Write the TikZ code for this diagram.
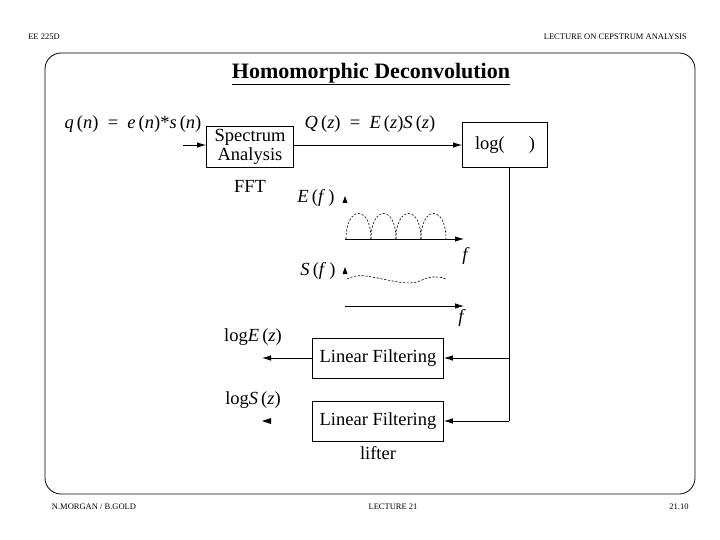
\documentclass[tikz,border=0pt]{standalone}
\usepackage{fontspec}
\setmainfont{Liberation Serif}
\usepackage{tikz}
\usetikzlibrary{positioning, arrows.meta, calc}
\newcommand{\itv}[1]{\textit{#1}}
\tikzset{
  blockbox/.style={
    draw, line width=0.8pt,
    minimum width=#1, minimum height=40pt,
    align=center, inner sep=2pt,
    font=\fontsize{18.5}{21}\selectfont
  },
  lbl/.style={inner sep=0pt, font=\fontsize{18.5}{21}\selectfont},
  hdr/.style={inner sep=0pt, font=\fontsize{8.5}{10}\selectfont},
  sig/.style={-{Latex[length=9pt,width=5.5pt]}, line width=0.8pt},
  spec/.style={dashed, dash pattern=on 2.2pt off 1.6pt, line width=0.6pt}
}

\begin{document}
\begin{tikzpicture}[x=1pt, y=-1pt]
\useasboundingbox (0,0) rectangle (720,540);

%% ── Page frame, header, footer ───────────────────────────────
\draw[line width=0.8pt, rounded corners=16pt] (45,53) rectangle (695,494);
\node[hdr] (hleft) at (44,37) {EE 225D};
\node[hdr, anchor=east] (hright) at (687,37) {LECTURE ON CEPSTRUM ANALYSIS};
\node[hdr] (fleft) at (94,507) {N.MORGAN / B.GOLD};
\node[hdr] (fmid) at (393,507) {LECTURE 21};
\node[hdr] (fright) at (679,507) {21.10};

\node[inner sep=0pt, font=\fontsize{22}{26}\selectfont\bfseries] (title) at (371,74)
  {\underline{Homomorphic Deconvolution}};

%% ── Spectrum analysis and log ────────────────────────────────
\node[blockbox=87pt, minimum height=41pt] (spec) at (250,147)
  {Spectrum\\[-2pt]Analysis};
\node[lbl] (fft) at (250,186) {FFT};
\coordinate (input) at (183,145);
\node[lbl] (qn) at (133,124)
  {\itv{q}\,(\itv{n})\ \ =\ \ \itv{e}\,(\itv{n})*\itv{s}\,(\itv{n})};
\draw[sig] (input) -- (input -| spec.west);

\node[blockbox=85pt, minimum height=45pt] (logbox) at (505,145) {log(\hspace{1.3em})};
\draw[sig] (spec.east |- input) -- (logbox.west |- input);
\node[lbl] (qz) at (370,124)
  {\itv{Q}\,(\itv{z})\ \ =\ \ \itv{E}\,(\itv{z})\itv{S}\,(\itv{z})};

%% ── Spectra sketches ─────────────────────────────────────────
\node[lbl] (ef) at (316,198) {\itv{E}\,(\itv{f}\,)};
\fill (345,196) -- (342.5,203) -- (347.5,203) -- cycle;
\coordinate (eaxis) at (345,239);
\coordinate (eend) at (464,239);
\draw[sig] (eaxis) -- (eend);
\node[lbl] (ff1) at (466,256) {\itv{f}};
\foreach \x in {346,371,396,421}
  \draw[spec] (\x,239) .. controls (\x,205) and (\x+25,205) .. (\x+25,239);

\node[lbl] (sf) at (318,271) {\itv{S}\,(\itv{f}\,)};
\fill (345,267) -- (342.5,274) -- (347.5,274) -- cycle;
\draw[spec] (347,279) .. controls (355,275) and (362,275) .. (372,277)
  .. controls (390,280) and (405,285) .. (417,282)
  .. controls (425,279) and (430,276) .. (436,277)
  .. controls (441,277) and (444,278) .. (446,279);
\coordinate (saxis) at (345,306);
\coordinate (send) at (464,306);
\draw[sig] (saxis) -- (send);
\node[lbl] (ff2) at (462,318) {\itv{f}};

%% ── Linear filtering (lifter) ────────────────────────────────
\node[blockbox=131pt] (lin1) at (378,358) {Linear Filtering};
\node[blockbox=131pt] (lin2) at (378,421) {Linear Filtering};
\node[lbl] (lifter) at (378,453) {lifter};

\coordinate (split) at (509,421);
\draw[line width=0.8pt] (logbox.south -| split) -- (split);
\draw[sig] (split |- lin1.east) -- (lin1.east);
\draw[sig] (split) -- (lin2.east);

\node[lbl] (loge) at (253,337) {log\itv{E}\,(\itv{z})};
\node[lbl] (logs) at (253,400) {log\itv{S}\,(\itv{z})};
\coordinate (eout) at (262,358);
\draw[sig] (lin1.west) -- (eout);
\fill (262,421) -- (271,418) -- (271,424) -- cycle;

\end{tikzpicture}
\end{document}
